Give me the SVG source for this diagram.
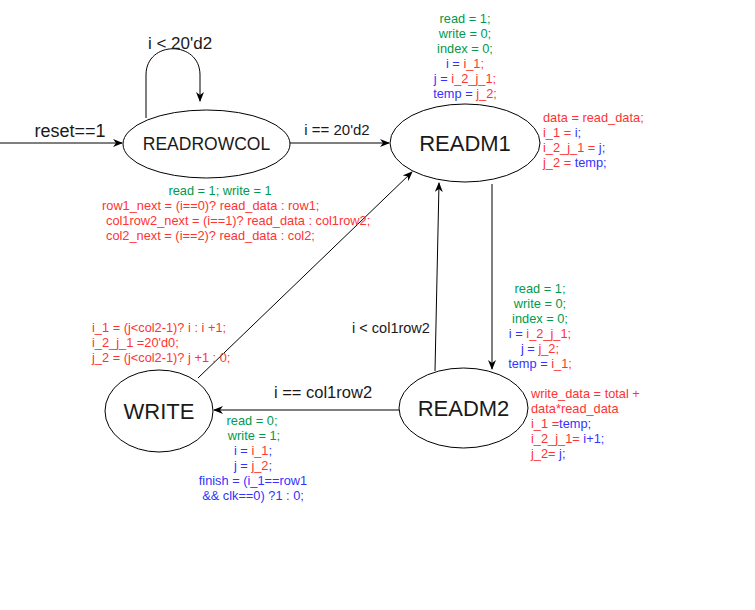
<svg xmlns="http://www.w3.org/2000/svg" width="755" height="610" viewBox="0 0 755 610">
<style>
.st{fill:#fff;stroke:#000;stroke-width:1}
.ln{fill:none;stroke:#000;stroke-width:1}
text{font-family:"Liberation Sans",Arial,sans-serif}
.nm{fill:#1a1a1a}
.lb{fill:#1a1a1a}
.s{font-size:12.8px}
.g{fill:#00994D}
.r{fill:#FF3333}
.b{fill:#3333FF}
.c{text-anchor:middle}
</style>
<defs>
<marker id="ah" markerWidth="10" markerHeight="8" refX="9" refY="4" orient="auto" markerUnits="userSpaceOnUse">
<path d="M0,0 L10,4 L0,8 L3,4 Z" fill="#000"/>
</marker>
</defs>
<rect width="755" height="610" fill="#fff"/>
<g id="connectors">
<line class="ln" x1="0" y1="143" x2="122" y2="143" marker-end="url(#ah)"/>
<path class="ln" d="M146,118 L146,75 C146,40 200,40 200,75 L200,101" marker-end="url(#ah)"/>
<line class="ln" x1="290" y1="143" x2="389" y2="143" marker-end="url(#ah)"/>
<line class="ln" x1="492" y1="184" x2="492" y2="369" marker-end="url(#ah)"/>
<line class="ln" x1="435" y1="371" x2="439" y2="183" marker-end="url(#ah)"/>
<line class="ln" x1="399" y1="410" x2="214" y2="410" marker-end="url(#ah)"/>
<line class="ln" x1="198" y1="378" x2="412" y2="172" marker-end="url(#ah)"/>
<text class="lb" x="70" y="137" font-size="18" text-anchor="middle">reset==1</text>
<text class="lb" x="180" y="49" font-size="17" text-anchor="middle">i &lt; 20'd2</text>
<text class="lb" x="337" y="135" font-size="15" text-anchor="middle">i == 20'd2</text>
<text class="lb" x="391" y="333" font-size="14.5" text-anchor="middle">i &lt; col1row2</text>
<text class="lb" x="323" y="398" font-size="16.5" text-anchor="middle">i == col1row2</text>
</g>
<g id="READROWCOL">
<ellipse class="st" cx="206.5" cy="144" rx="83.5" ry="34"/>
<text class="nm" x="206.5" y="150" font-size="17.5" text-anchor="middle">READROWCOL</text>
<text class="s g c" x="220" y="195">read = 1; write = 1</text>
<text class="s r" x="102" y="209.5">row1_next = (i==0)? read_data : row1;</text>
<text class="s r" x="106" y="224.5">col1row2_next = (i==1)? read_data : col1row2;</text>
<text class="s r" x="106" y="239.5">col2_next = (i==2)? read_data : col2;</text>
</g>
<g id="READM1">
<ellipse class="st" cx="465" cy="143" rx="75" ry="39"/>
<text class="nm" x="465" y="151" font-size="22" text-anchor="middle">READM1</text>
<text class="s g c" x="465" y="22.5">read = 1;</text>
<text class="s g c" x="465" y="37.5">write = 0;</text>
<text class="s g c" x="465" y="52.5">index = 0;</text>
<text class="s c" x="465" y="67.5"><tspan class="b">i = </tspan><tspan class="r">i_1;</tspan></text>
<text class="s c" x="465" y="82.5"><tspan class="b">j = </tspan><tspan class="r">i_2_j_1;</tspan></text>
<text class="s c" x="465" y="97.5"><tspan class="b">temp = </tspan><tspan class="r">j_2;</tspan></text>
<text class="s r" x="543" y="121.5">data = read_data;</text>
<text class="s" x="543" y="136.5"><tspan class="r">i_1 = </tspan><tspan class="b">i;</tspan></text>
<text class="s" x="543" y="151.5"><tspan class="r">i_2_j_1 = </tspan><tspan class="b">j;</tspan></text>
<text class="s" x="543" y="166.5"><tspan class="r">j_2 = </tspan><tspan class="b">temp;</tspan></text>
</g>
<g id="READM2">
<ellipse class="st" cx="463.5" cy="408" rx="64.5" ry="40"/>
<text class="nm" x="463.5" y="416" font-size="22" text-anchor="middle">READM2</text>
<text class="s g c" x="540" y="292.5">read = 1;</text>
<text class="s g c" x="540" y="307.5">write = 0;</text>
<text class="s g c" x="540" y="322.5">index = 0;</text>
<text class="s c" x="540" y="337.5"><tspan class="b">i = </tspan><tspan class="r">i_2_j_1;</tspan></text>
<text class="s c" x="540" y="352.5"><tspan class="b">j = </tspan><tspan class="r">j_2;</tspan></text>
<text class="s c" x="540" y="367.5"><tspan class="b">temp = </tspan><tspan class="r">i_1;</tspan></text>
<text class="s r" x="531" y="397.5">write_data = total +</text>
<text class="s r" x="531" y="412.5">data*read_data</text>
<text class="s" x="531" y="427.5"><tspan class="r">i_1 =</tspan><tspan class="b">temp;</tspan></text>
<text class="s" x="531" y="442.5"><tspan class="r">i_2_j_1= </tspan><tspan class="b">i+1;</tspan></text>
<text class="s" x="531" y="457.5"><tspan class="r">j_2= </tspan><tspan class="b">j;</tspan></text>
</g>
<g id="WRITE">
<ellipse class="st" cx="159" cy="411" rx="54" ry="41"/>
<text class="nm" x="159" y="419" font-size="22" text-anchor="middle">WRITE</text>
<text class="s r" x="92" y="331.5">i_1 = (j&lt;col2-1)? i : i +1;</text>
<text class="s r" x="92" y="346.5">i_2_j_1 =20'd0;</text>
<text class="s r" x="92" y="361.5">j_2 = (j&lt;col2-1)? j +1 : 0;</text>
<text class="s g c" x="252" y="424.5">read = 0;</text>
<text class="s g c" x="254" y="439.5">write = 1;</text>
<text class="s c" x="253" y="454.5"><tspan class="b">i = </tspan><tspan class="r">i_1</tspan><tspan class="b">;</tspan></text>
<text class="s c" x="253" y="469.5"><tspan class="b">j = </tspan><tspan class="r">j_2</tspan><tspan class="b">;</tspan></text>
<text class="s b c" x="253" y="484.5">finish = (i_1==row1</text>
<text class="s b c" x="253" y="499.5">&amp;&amp; clk==0) ?1 : 0;</text>
</g>
</svg>
